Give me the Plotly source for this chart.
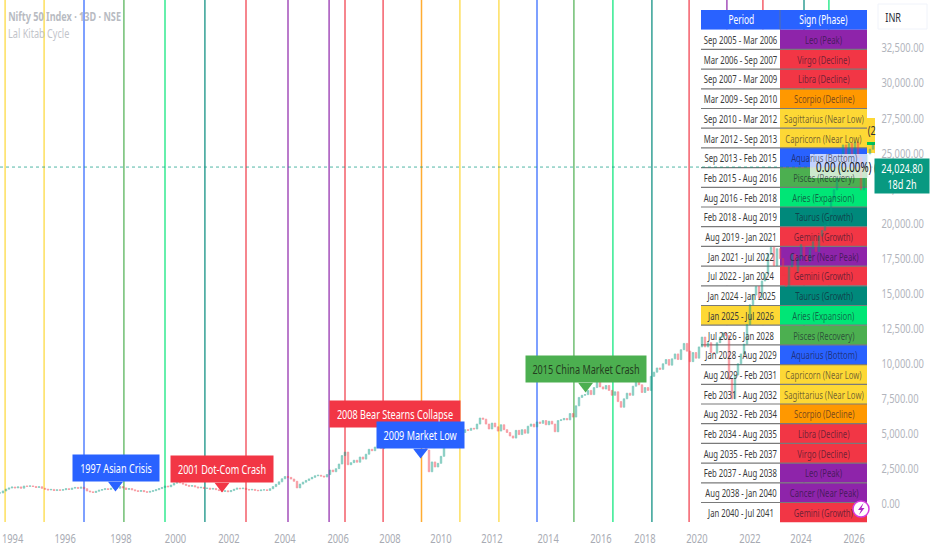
import plotly.graph_objects as go

# one bar every 3 px, like the bar-numbered time scale of the original chart
closes = [
    790, 930, 1060, 1140, 1210, 1150, 1220, 1130, 1280, 1260,
    1290, 1250, 1180, 1230, 1120, 1060, 1000, 1040, 960, 1010,
    980, 1020, 1090, 1040, 1130, 1180, 1120, 1200, 1090, 930,
    870, 820, 910, 980, 1030, 1090, 1040, 1120, 1180, 1120,
    1240, 1150, 1040, 1100, 1010, 950, 900, 960, 880, 840,
    900, 950, 1020, 1100, 1180, 1280, 1230, 1350, 1480, 1640,
    1500, 1420, 1330, 1270, 1310, 1220, 1150, 1190, 1110, 1130,
    1060, 1110, 1020, 960, 900, 940, 880, 960, 1050, 1130,
    1090, 1130, 1040, 1000, 1040, 980, 950, 1000, 1010, 970,
    1090, 1240, 1400, 1580, 1800, 1960, 1900, 1780, 1620, 1150,
    1420, 1560, 1680, 1790, 1900, 2010, 2050, 1990, 1930, 2100,
    2420, 2300, 2520, 2850, 3450, 3700, 2800, 2950, 3120, 2980,
    3350, 3200, 3550, 3900, 3800, 4060, 4200, 3950, 4350, 4150,
    4560, 4400, 4700, 5100, 5600, 5990, 6150, 5600, 5000, 4700,
    4500, 4100, 3850, 2300, 3000, 2640, 2900, 3400, 4200, 4600,
    4800, 5000, 4900, 5200, 5100, 5300, 5250, 5400, 5350, 5700,
    6130, 6050, 5700, 5350, 5770, 5500, 5200, 5650, 5300, 5100,
    4850, 4700, 5250, 4950, 5300, 5050, 5550, 5700, 5500, 5850,
    5750, 5950, 5650, 5900, 5700, 5150, 5950, 6000, 6100, 6000,
    6450, 6200, 7000, 7600, 7750, 7800, 8100, 7800, 8300, 8700,
    8350, 8200, 8450, 8100, 7750, 8000, 7300, 6900, 7500, 7900,
    7750, 8400, 8700, 8500, 7950, 8300, 8100, 9100, 9400, 9700,
    9600, 10000, 10300, 9900, 10350, 10700, 10300, 11000, 11450, 10900,
    10150, 10800, 10400, 11200, 11900, 11200, 11500, 10800, 10750, 11500,
    11900, 12200, 12000, 8900, 7500, 9200, 10000, 10700, 11400, 12800,
    14200, 14900, 15500, 14700, 15900, 16400, 17800, 18300, 17000, 18200,
    17500, 16300, 15500, 16900, 17800, 16600, 17500, 18500, 17700, 17300,
    18200, 18700, 18000, 19100, 19500, 19900, 20700, 21700, 22400, 23200,
    24800, 25600, 24300, 25700, 24900, 25800, 24700, 22400, 23300, 24900,
    25300, 25700, 24800, 25400, 25950, 24900, 23300, 24400, 24024.8,
]

tick_bars = [4.2, 21.7, 40.3, 58.5, 76.3, 95, 112.7, 130, 147, 164, 182.7, 200.3, 215, 232.3, 250, 267, 284.7]
tick_years = ["1994", "1996", "1998", "2000", "2002", "2004", "2006", "2008", "2010",
              "2012", "2014", "2016", "2018", "2020", "2022", "2024", "2026"]
price_ticks = list(range(0, 35000, 2500))

cycle_bars = [1.7, 14.7, 28, 41.3, 55, 68.3, 82, 96, 109.7, 115, 127.7, 140.5, 153.3,
              166.3, 179, 191.3, 204.3, 217.3, 229.7, 242.3, 254.3, 268, 276.3]
cycle_signs = ["gold", "gold", "blue", "green", "lime", "teal", "red", "purple", "purple",
               "red", "red", "orange", "gold", "gold", "blue", "green", "lime", "teal",
               "red", "purple", "red", "teal", "lime"]

periods = ["Sep 2005 - Mar 2006", "Mar 2006 - Sep 2007", "Sep 2007 - Mar 2009", "Mar 2009 - Sep 2010",
           "Sep 2010 - Mar 2012", "Mar 2012 - Sep 2013", "Sep 2013 - Feb 2015", "Feb 2015 - Aug 2016",
           "Aug 2016 - Feb 2018", "Feb 2018 - Aug 2019", "Aug 2019 - Jan 2021", "Jan 2021 - Jul 2022",
           "Jul 2022 - Jan 2024", "Jan 2024 - Jan 2025", "Jan 2025 - Jul 2026", "Jul 2026 - Jan 2028",
           "Jan 2028 - Aug 2029", "Aug 2029 - Feb 2031", "Feb 2031 - Aug 2032", "Aug 2032 - Feb 2034",
           "Feb 2034 - Aug 2035", "Aug 2035 - Feb 2037", "Feb 2037 - Aug 2038", "Aug 2038 - Jan 2040",
           "Jan 2040 - Jul 2041"]
signs = ["Leo (Peak)", "Virgo (Decline)", "Libra (Decline)", "Scorpio (Decline)",
         "Sagittarius (Near Low)", "Capricorn (Near Low)", "Aquarius (Bottom)", "Pisces (Recovery)",
         "Aries (Expansion)", "Taurus (Growth)", "Gemini (Growth)", "Cancer (Near Peak)",
         "Gemini (Growth)", "Taurus (Growth)", "Aries (Expansion)", "Pisces (Recovery)",
         "Aquarius (Bottom)", "Capricorn (Near Low)", "Sagittarius (Near Low)", "Scorpio (Decline)",
         "Libra (Decline)", "Virgo (Decline)", "Leo (Peak)", "Cancer (Near Peak)", "Gemini (Growth)"]
sign_colors = ["purple", "red", "red", "orange", "gold", "gold", "blue", "green", "lime", "teal",
               "red", "purple", "red", "teal", "lime", "green", "blue", "gold", "gold", "orange",
               "red", "red", "purple", "purple", "red"]
current_row = 14

event_names = ["1997 Asian Crisis", "2001 Dot-Com Crash", "2008 Bear Stearns Collapse",
               "2009 Market Low", "2015 China Market Crash"]
event_bars = [38.5, 74, 131.7, 140.2, 195.2]
event_prices = [1355, 1283, 5205, 3707, 8413]
event_colors = ["blue", "red", "red", "blue", "green"]
event_widths = [84, 100, 128, 85, 118]
event_text = ["white", "white", "white", "white", "#24401f"]

palette = dict(gold="#fdd835", blue="#2962ff", green="#4caf50", lime="#00e676", teal="#00897b",
               red="#f23645", purple="#8e24aa", orange="#ff9800")

FONT = "Noto Sans, sans-serif"
PLOT_W = 875
PLOT_H = 522


def px(x):
    return x / PLOT_W


def py(y):
    return 1 - y / PLOT_H


opens = [closes[0]] + closes[:-1]
bars = list(range(len(closes)))

fig = go.Figure()
fig.add_trace(go.Candlestick(
    x=bars, open=opens, close=closes,
    high=[max(a, b) for a, b in zip(opens, closes)],
    low=[min(a, b) for a, b in zip(opens, closes)],
    increasing=dict(line=dict(color="#089981", width=0.8), fillcolor="#089981"),
    decreasing=dict(line=dict(color="#f23645", width=0.8), fillcolor="#f23645"),
    whiskerwidth=0, opacity=0.5, showlegend=False, hoverinfo="skip",
))
fig.add_trace(go.Scatter(
    x=event_bars, y=event_prices, mode="markers", showlegend=False, hoverinfo="skip",
    marker=dict(symbol="triangle-down", size=13, color=[palette[c] for c in event_colors]),
))

shapes = []
for bar, sign in zip(cycle_bars, cycle_signs):
    shapes.append(dict(type="line", xref="x", yref="paper", x0=bar, x1=bar, y0=0, y1=1, layer="below",
                       line=dict(color=palette[sign], width=1.5), opacity=0.8))

# labels sticking out from behind the table
shapes.append(dict(type="rect", xref="paper", yref="paper", x0=px(860), x1=px(875), y0=py(153), y1=py(118),
                   fillcolor="#fdd835", line_width=0, layer="below"))
shapes.append(dict(type="rect", xref="paper", yref="paper", x0=px(860), x1=px(875), y0=py(145), y1=py(142),
                   fillcolor="#00c853", line_width=0, layer="below"))

# table sits under the candles
COL0, COL1, COL2 = 701, 780, 867
TOP = 10
ROW_H = 19.7
shapes.append(dict(type="rect", xref="paper", yref="paper", x0=px(COL0), x1=px(COL2), y0=py(TOP + ROW_H), y1=py(TOP),
                   fillcolor="#2962ff", line=dict(color="#2962ff", width=0), layer="below"))
shapes.append(dict(type="line", xref="paper", yref="paper", x0=px(COL1), x1=px(COL1), y0=py(TOP + ROW_H), y1=py(TOP),
                   line=dict(color="#5a6f9f", width=1), layer="below"))
for i, (period, color) in enumerate(zip(periods, sign_colors)):
    y0 = TOP + ROW_H * (i + 1)
    y1 = y0 + ROW_H
    left_fill = palette["gold"] if i == current_row else "white"
    shapes.append(dict(type="rect", xref="paper", yref="paper", x0=px(COL0), x1=px(COL1), y0=py(y1), y1=py(y0),
                       fillcolor=left_fill, line_width=0, layer="below"))
    shapes.append(dict(type="rect", xref="paper", yref="paper", x0=px(COL1), x1=px(COL2), y0=py(y1), y1=py(y0),
                       fillcolor=palette[color], line_width=0, layer="below"))
    if i > 0:
        shapes.append(dict(type="line", xref="paper", yref="paper", x0=px(COL0), x1=px(COL2), y0=py(y0), y1=py(y0),
                           line=dict(color="#7a7a7a", width=1.2), layer="below"))

# current price dotted line
shapes.append(dict(type="line", xref="paper", yref="y", x0=0, x1=1, y0=closes[-1], y1=closes[-1],
                   line=dict(color="#089981", width=1, dash="dot"), opacity=0.7, layer="below"))
# white value label over the candles, currency box on the scale
shapes.append(dict(type="rect", xref="paper", yref="paper", x0=px(810), x1=px(875), y0=py(178), y1=py(154),
                   fillcolor="rgba(255,255,255,0.72)", line_width=0))
shapes.append(dict(type="rect", xref="paper", yref="paper", x0=px(878), x1=px(927), y0=py(29), y1=py(4),
                   fillcolor="rgba(0,0,0,0)", line=dict(color="#f0f3fa", width=1)))
# lightning badge
shapes.append(dict(type="circle", xref="paper", yref="paper", x0=px(853), x1=px(869), y0=py(517), y1=py(501),
                   fillcolor="white", line=dict(color="#d63be0", width=1.5)))
bolt = [(863.5, 503), (858, 510), (861, 510), (859, 515), (864.5, 508), (861.5, 508)]
shapes.append(dict(type="path", xref="paper", yref="paper", fillcolor="#b028c8", line_width=0,
                   path="M" + " L".join(f"{px(a):.5f},{py(b):.5f}" for a, b in bolt) + " Z"))

annotations = []


def note(x, y, text, size=11, color="#333", **kw):
    annotations.append(dict(xref="paper", yref="paper", x=px(x), y=py(y), text=text, showarrow=False,
                            xanchor="center", yanchor="middle",
                            font=dict(family=FONT, size=size, color=color), **kw))


note(741, TOP + ROW_H / 2, "Period", color="white", size=12)
note(823, TOP + ROW_H / 2, "Sign (Phase)", color="white", size=12)
for i, (period, sign) in enumerate(zip(periods, signs)):
    y = TOP + ROW_H * (i + 1.5)
    note(740.5, y, period, color="#3a3a3a")
    note(823.5, y, sign, color="rgba(25,20,45,0.62)")

note(64, 16, "<b>Nifty 50 Index · 13D · NSE</b>", size=13, color="#b8bbc2")
note(38, 33, "Lal Kitab Cycle", size=13, color="#c2c4ca")
note(892.5, 17, "INR", size=13, color="#2a2e39")
note(871, 130, "(2", size=13, color="#333")
note(846, 166, "0.00 (0.00%) (", size=14, color="#111")
note(902, 176, "24,024.80<br>18d 2h", size=13, color="white", bgcolor="#089981", width=52, height=32)

# event flags, later ones on top
for name, bar, price, color, width, text_color in zip(event_names, event_bars, event_prices,
                                                      event_colors, event_widths, event_text):
    annotations.append(dict(x=bar, y=price, xref="x", yref="y", text=name, showarrow=False,
                            yshift=17, yanchor="middle", xanchor="center", bgcolor=palette[color],
                            width=width, height=24,
                            font=dict(family=FONT, size=13, color=text_color)))

fig.update_layout(
    width=932, height=550, margin=dict(l=0, r=57, t=0, b=28, autoexpand=False),
    paper_bgcolor="white", plot_bgcolor="white", shapes=shapes, annotations=annotations,
    font=dict(family=FONT, size=12, color="#a8abb3"),
    xaxis=dict(range=[0, PLOT_W / 3], tickvals=tick_bars, ticktext=tick_years, showgrid=False, zeroline=False,
               rangeslider=dict(visible=False), ticks="outside", ticklen=6, tickcolor="white", showline=False,
               ticklabeloverflow="allow", tickfont=dict(family=FONT, size=12, color="#a8abb3")),
    yaxis=dict(range=[-1283, 35935], side="right", tickvals=price_ticks, tickformat=",.2f", showgrid=False,
               zeroline=False, ticks="outside", ticklen=3, tickcolor="white", showline=False,
               tickfont=dict(family=FONT, size=12, color="#b2b5bd")),
)

# the original's type is narrow; none of the installed fonts is, so squeeze the glyphs
squeeze = """
document.body.style.margin = '0';
document.querySelectorAll('.main-svg text').forEach(function (t) {
    var k = t.closest('.annotation') ? 0.7 : 0.78;
    var lines = t.querySelectorAll('tspan.line');
    (lines.length ? lines : [t]).forEach(function (el) {
        el.setAttribute('textLength', el.getComputedTextLength() * k);
        el.setAttribute('lengthAdjust', 'spacingAndGlyphs');
    });
});
"""
fig.write_html("out.html", config=dict(displayModeBar=False), post_script=squeeze)
